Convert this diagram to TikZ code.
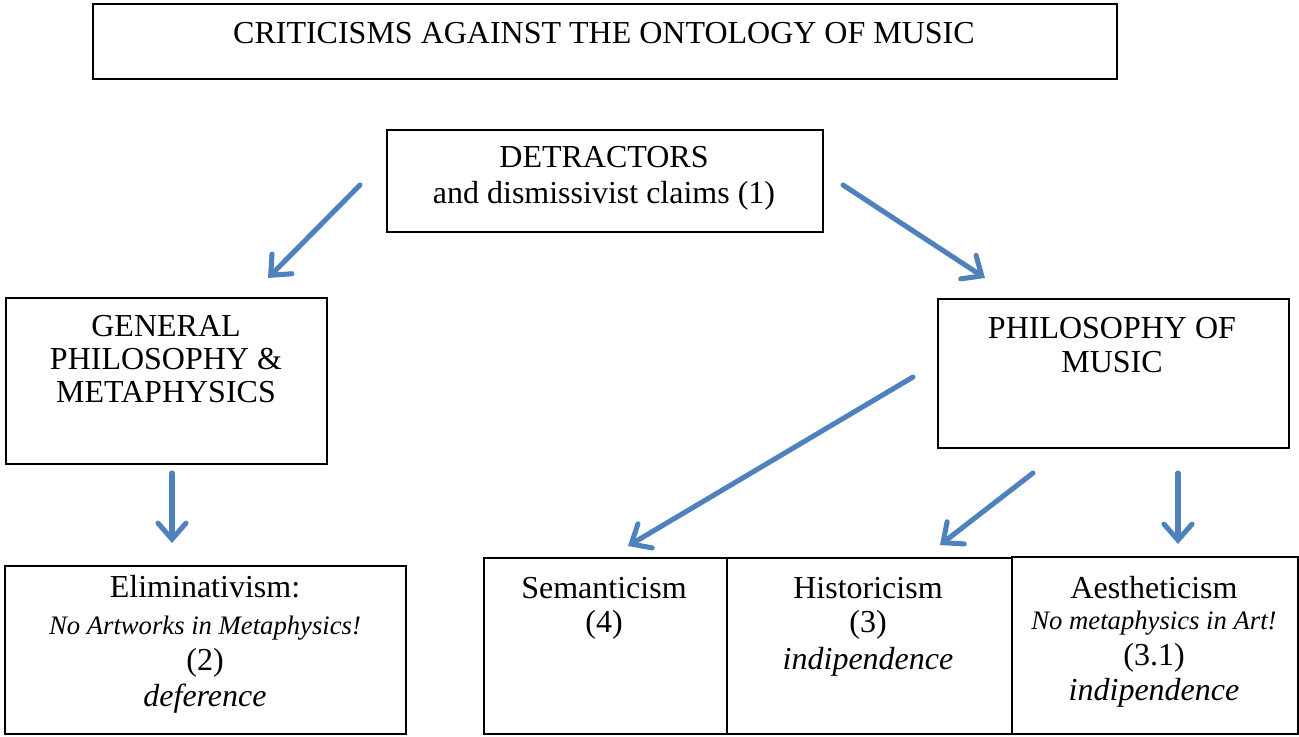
\documentclass[tikz,border=0pt]{standalone}
\usepackage{fontspec}
\setmainfont{Liberation Serif}
\usetikzlibrary{arrows.meta}
\definecolor{arrowblue}{HTML}{4F81BD}
\tikzset{
  box/.style={draw=black, line width=1.3pt, anchor=north west, inner sep=0pt},
  big/.style={anchor=base, inner sep=0pt, font=\fontsize{24}{28}\selectfont},
  small/.style={anchor=base, inner sep=0pt, font=\fontsize{20}{24}\selectfont\itshape},
  bigit/.style={anchor=base, inner sep=0pt, font=\fontsize{24}{28}\selectfont\itshape},
  flow/.style={draw=arrowblue, line width=3.8pt, line cap=round,
    -{Straight Barb[length=12pt, width=21pt, line cap=round]}},
}
\begin{document}
\begin{tikzpicture}[x=0.75pt, y=-0.75pt]
\useasboundingbox (0,0) rectangle (1299,736);
% boxes
\node[box, minimum width=1024*0.75pt, minimum height=75*0.75pt] (title) at (92,3) {};
\node[box, minimum width=436*0.75pt, minimum height=102*0.75pt] (detr) at (386,129) {};
\node[box, minimum width=321*0.75pt, minimum height=166*0.75pt] (gen) at (5,297) {};
\node[box, minimum width=351*0.75pt, minimum height=149*0.75pt] (phil) at (937,298) {};
\node[box, minimum width=401*0.75pt, minimum height=168*0.75pt] (elim) at (4,565) {};
\node[box, minimum width=243*0.75pt, minimum height=176*0.75pt] (sem) at (483,557) {};
\node[box, minimum width=285*0.75pt, minimum height=176*0.75pt] (hist) at (726,557) {};
\node[box, minimum width=286*0.75pt, minimum height=177*0.75pt] (aest) at (1011,556) {};
% texts
\node[big] (t1) at (604,43) {CRITICISMS AGAINST THE ONTOLOGY OF MUSIC};
\node[big] (d1) at (604,167) {DETRACTORS};
\node[big] (d2) at (604,203) {and dismissivist claims (1)};
\node[big] (g1) at (166,336) {GENERAL};
\node[big] (g2) at (166,369) {PHILOSOPHY \&};
\node[big] (g3) at (166,402) {METAPHYSICS};
\node[big] (p1) at (1112,338) {PHILOSOPHY OF};
\node[big] (p2) at (1112,372) {MUSIC};
\node[big] (e1) at (205,597) {Eliminativism:};
\node[small] (e2) at (205,634) {No Artworks in Metaphysics!};
\node[big] (e3) at (205,670) {(2)};
\node[bigit] (e4) at (205,706) {deference};
\node[big] (s1) at (604,598) {Semanticism};
\node[big] (s2) at (604,632) {(4)};
\node[big] (h1) at (868,598) {Historicism};
\node[big] (h2) at (868,632) {(3)};
\node[bigit] (h3) at (868,669) {indipendence};
\node[big] (a1) at (1154,598) {Aestheticism};
\node[small] (a2) at (1154,629) {No metaphysics in Art!};
\node[big] (a3) at (1154,665) {(3.1)};
\node[bigit] (a4) at (1154,700) {indipendence};
% arrow end points
\coordinate (ad1) at (360,185);
\coordinate (ad2) at (268,278);
\coordinate (ad3) at (843,185);
\coordinate (ad4) at (985,278);
\coordinate (ag1) at (172,473);
\coordinate (ag2) at (172,543);
\coordinate (ap1) at (913,377);
\coordinate (ap2) at (628,546);
\coordinate (ap3) at (1033,473);
\coordinate (ap4) at (940,545);
\coordinate (ap5) at (1178,473);
\coordinate (ap6) at (1178,544);
\draw[flow] (ad1) -- (ad2);
\draw[flow] (ad3) -- (ad4);
\draw[flow] (ag1) -- (ag2);
\draw[flow] (ap1) -- (ap2);
\draw[flow] (ap3) -- (ap4);
\draw[flow] (ap5) -- (ap6);
\end{tikzpicture}
\end{document}
